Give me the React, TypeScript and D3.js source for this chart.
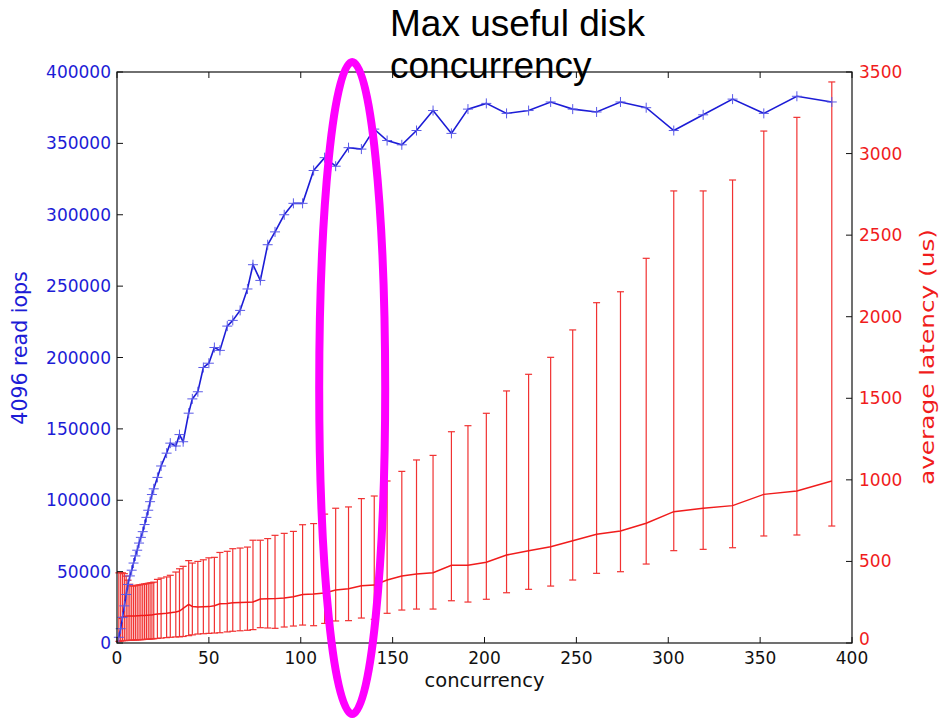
import React from 'react';
import * as d3 from 'd3';

const concurrency = [1, 2, 3, 4, 5, 6, 7, 8, 9, 10, 11, 12, 13, 14, 15, 16, 17, 18, 19, 20,
  22, 24, 27, 29, 32, 34, 36, 39, 41, 44,
  47, 50, 53, 56, 60, 63, 67, 71, 74, 78,
  82, 86, 91, 96, 101, 107, 113, 119, 126, 133,
  140, 147, 155, 163, 172, 182, 191, 201, 212, 224,
  236, 248, 261, 274, 288, 303, 319, 335, 352, 370, 389];

const iops = [4000, 10000, 18000, 26000, 34000, 41000, 47000, 51000, 56000, 61000,
  65000, 70000, 74000, 78000, 83000, 88000, 93000, 99000, 104000, 108000,
  116000, 124000, 133000, 140000, 138000, 146000, 141000, 161000, 171000, 176000,
  193000, 196000, 207000, 205000, 222000, 226000, 233000, 248000, 265000, 254000,
  279000, 288000, 300000, 308000, 308000, 331000, 340000, 334000, 347000, 346000,
  360000, 352000, 349000, 359000, 373000, 357000, 374000, 378000, 371000, 373000,
  379000, 374000, 372000, 379000, 375000, 359000, 370000, 381000, 371000, 383000, 379000];

const latencyMean = [150, 155, 160, 162, 164, 165, 165, 165, 166, 166,
  167, 167, 168, 168, 169, 170, 170, 171, 172, 174,
  178, 180, 183, 186, 190, 196, 212, 237, 224, 220,
  222, 223, 228, 240, 242, 246, 249, 250, 251, 270,
  271, 272, 276, 283, 297, 300, 306, 325, 332, 351,
  355, 386, 411, 423, 431, 476, 476, 495, 539, 566,
  590, 627, 666, 686, 734, 805, 826, 842, 911, 932, 993];

const latencyHigh = [430, 432, 430, 425, 410, 385, 360, 350, 350, 352,
  354, 356, 358, 360, 362, 364, 366, 368, 370, 373,
  390, 398, 405, 415, 435, 455, 470, 505, 490, 500,
  510, 522, 525, 555, 562, 578, 582, 588, 630, 630,
  640, 660, 672, 684, 725, 732, 790, 826, 834, 885,
  901, 993, 1052, 1122, 1150, 1295, 1332, 1408, 1545, 1647,
  1751, 1919, 2086, 2153, 2358, 2771, 2771, 2838, 3138, 3222, 3439];

const latencyLow = [10, 12, 14, 15, 15, 16, 16, 17, 18, 18,
  19, 20, 20, 21, 22, 22, 23, 24, 25, 26,
  28, 30, 33, 35, 37, 38, 40, 45, 50, 55,
  57, 59, 61, 63, 68, 72, 75, 78, 82, 94,
  92, 90, 98, 104, 110, 106, 120, 135, 137, 153,
  145, 182, 202, 208, 208, 259, 251, 268, 308, 329,
  349, 386, 427, 437, 484, 566, 574, 584, 656, 662, 717];

const xTicks = [0, 50, 100, 150, 200, 250, 300, 350, 400];
const iopsTicks = [0, 50000, 100000, 150000, 200000, 250000, 300000, 350000, 400000];
const latencyTicks = [0, 500, 1000, 1500, 2000, 2500, 3000, 3500];

const annotationLines = ['Max useful disk', 'concurrency'];
const highlightConcurrency = 128;

const BLUE = '#1c1cd6';
const RED = '#f01c1c';
const FONT = '"DejaVu Sans", sans-serif';

export default function App() {
  const W = 940, H = 718;
  const L = 117, R = 852, T = 72, B = 643;
  const x = d3.scaleLinear().domain([0, 400]).range([L, R]);
  const yL = d3.scaleLinear().domain([0, 400000]).range([B, T]);
  const yR = d3.scaleLinear().domain([0, 3500]).range([B, T]);

  const blueLine = d3.line<number>().x((_, i) => x(concurrency[i])).y(d => yL(d))(iops) || '';
  const redLine = d3.line<number>().x((_, i) => x(concurrency[i])).y(d => yR(d))(latencyMean) || '';

  const tick = 6;
  const cap = 3.5;
  const mk = 5;

  return (
    <svg width={W} height={H} style={{ position: 'absolute', left: 0, top: 0, background: '#fff' }}>
      <rect x={0} y={0} width={W} height={H} fill="#fff" />
      {/* red error bars */}
      <g stroke={RED} strokeWidth={1.2} opacity={0.9}>
        {concurrency.map((c, i) => {
          const cx = x(c);
          return (
            <g key={'e' + i}>
              <line x1={cx} x2={cx} y1={yR(latencyLow[i])} y2={yR(latencyHigh[i])} />
              <line x1={cx - cap} x2={cx + cap} y1={yR(latencyLow[i])} y2={yR(latencyLow[i])} />
              <line x1={cx - cap} x2={cx + cap} y1={yR(latencyHigh[i])} y2={yR(latencyHigh[i])} />
            </g>
          );
        })}
      </g>
      <path d={redLine} fill="none" stroke={RED} strokeWidth={1.5} />
      {/* blue iops */}
      <path d={blueLine} fill="none" stroke={BLUE} strokeWidth={1.6} />
      <g stroke="#5a5ae8" strokeWidth={1}>
        {concurrency.map((c, i) => (
          <g key={'m' + i}>
            <line x1={x(c) - mk} x2={x(c) + mk} y1={yL(iops[i])} y2={yL(iops[i])} />
            <line x1={x(c)} x2={x(c)} y1={yL(iops[i]) - mk} y2={yL(iops[i]) + mk} />
          </g>
        ))}
      </g>
      {/* frame */}
      <rect x={L} y={T} width={R - L} height={B - T} fill="none" stroke="#111" strokeWidth={1.2} />
      <g stroke="#111" strokeWidth={1}>
        {xTicks.map(t => (
          <g key={'xt' + t}>
            <line x1={x(t)} x2={x(t)} y1={B} y2={B - tick} />
            <line x1={x(t)} x2={x(t)} y1={T} y2={T + tick} />
          </g>
        ))}
        {iopsTicks.map(t => (
          <line key={'yl' + t} x1={L} x2={L + tick} y1={yL(t)} y2={yL(t)} />
        ))}
        {latencyTicks.map(t => (
          <line key={'yr' + t} x1={R} x2={R - tick} y1={yR(t)} y2={yR(t)} />
        ))}
      </g>
      <g fontFamily={FONT} fontSize={17}>
        {xTicks.map(t => (
          <text key={'xl' + t} x={x(t)} y={B + 21} textAnchor="middle" fill="#111">{t}</text>
        ))}
        {iopsTicks.map(t => (
          <text key={'ll' + t} x={L - 6} y={yL(t) + 6} textAnchor="end" fill={BLUE}>{t}</text>
        ))}
        {latencyTicks.map(t => (
          <text key={'rl' + t} x={R + 7} y={yR(t) + (t === 0 ? 2 : 6)} textAnchor="start" fill={RED}>{t}</text>
        ))}
      </g>
      <g fontFamily={FONT}>
        <text x={(L + R) / 2} y={B + 44} fontSize={19.5} textAnchor="middle" fill="#111">concurrency</text>
        <text transform={`translate(27,348) rotate(-90)`} fontSize={20.5} textAnchor="middle" fill={BLUE}>4096 read iops</text>
        <text transform={`translate(934,357) rotate(-90)`} fontSize={20} textAnchor="middle" fill={RED}
          textLength={256} lengthAdjust="spacingAndGlyphs">average latency (us)</text>
      </g>
      {/* annotation */}
      <ellipse cx={x(highlightConcurrency)} cy={388} rx={33} ry={326} fill="none" stroke="#ff00ff" strokeWidth={8} />
      <g fontFamily='"Liberation Sans", Arial, sans-serif' fontSize={37} fill="#000">
        {annotationLines.map((s, i) => (
          <text key={s} x={390} y={36 + i * 42}>{s}</text>
        ))}
      </g>
    </svg>
  );
}
